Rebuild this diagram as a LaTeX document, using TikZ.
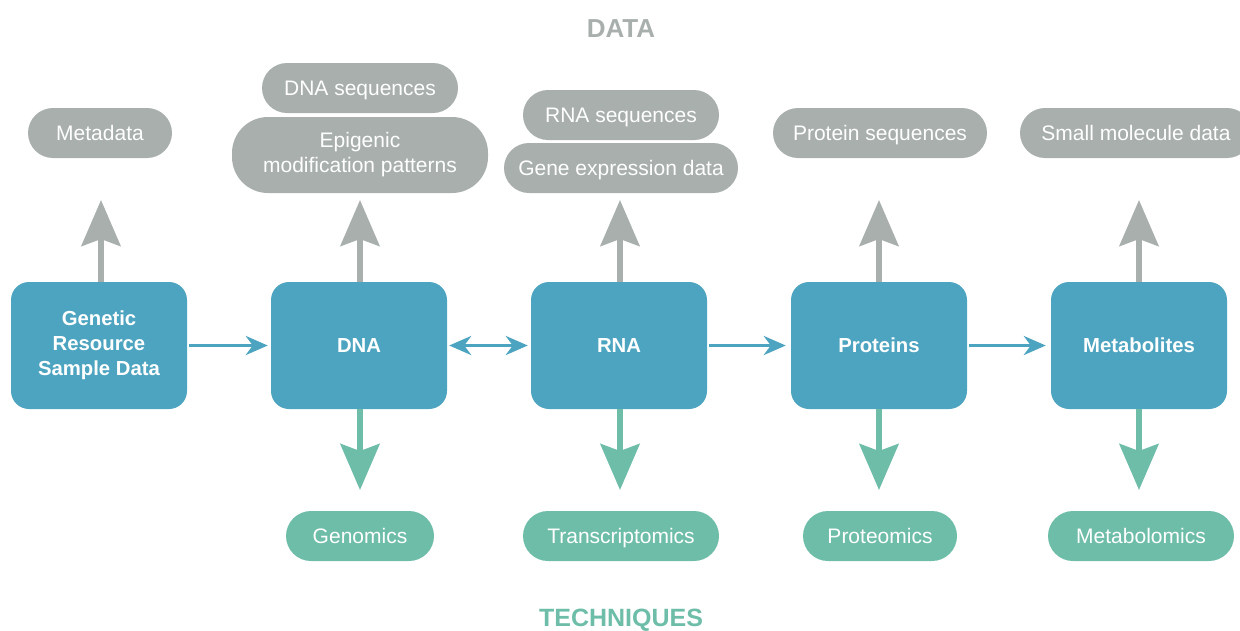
\documentclass[tikz,border=0pt]{standalone}
\usepackage{fontspec}
\setmainfont{Liberation Sans}
\usetikzlibrary{arrows.meta}
\definecolor{boxblue}{HTML}{4DA4C0}
\definecolor{datagray}{HTML}{A8AFAD}
\definecolor{techgreen}{HTML}{6DBDA8}
\tikzset{
  x=1pt,y=-1pt,
  mainbox/.style={fill=boxblue,rounded corners=18pt,minimum width=176pt,minimum height=127pt,inner sep=0pt,text=white,font=\fontsize{20.3}{25}\selectfont\bfseries,align=center},
  pillbase/.style={rounded corners=25pt,minimum height=50pt,inner sep=0pt,text=white,font=\fontsize{21}{25}\selectfont,align=center,text height=15pt,text depth=0pt},
  datapill/.style={pillbase,fill=datagray},
  techpill/.style={pillbase,fill=techgreen},
  flow/.style={draw=boxblue,line width=3.5pt,-{Stealth[length=22pt,width=19pt,inset=7pt]}},
  flowboth/.style={draw=boxblue,line width=3.5pt,{Stealth[length=22pt,width=19pt,inset=7pt]}-{Stealth[length=22pt,width=19pt,inset=7pt]}},
  uparrow/.style={draw=datagray,line width=6pt,-{Stealth[length=46pt,width=39pt,inset=7pt]}},
  downarrow/.style={draw=techgreen,line width=6pt,-{Stealth[length=46pt,width=39pt,inset=7pt]}},
  title/.style={font=\fontsize{26}{30}\selectfont\bfseries,text height=19pt,text depth=0pt},
}
\begin{document}
\begin{tikzpicture}
\useasboundingbox (0,0) rectangle (1240,630);
% titles
\node[title,text=datagray] (tdata) at (621,28) {DATA};
\node[title,text=techgreen,font=\fontsize{25}{30}\selectfont\bfseries] (ttech) at (621,617) {TECHNIQUES};
% main boxes
\node[mainbox] (gen) at (99,345.5) {Genetic\\Resource\\Sample Data};
\node[mainbox,text height=14.5pt,text depth=0pt] (dna) at (359,345.5) {DNA};
\node[mainbox,text height=14.5pt,text depth=0pt] (rna) at (619,345.5) {RNA};
\node[mainbox,text height=14.5pt,text depth=0pt] (pro) at (879,345.5) {Proteins};
\node[mainbox,text height=14.5pt,text depth=0pt] (met) at (1139,345.5) {Metabolites};
% data pills
\node[datapill,minimum width=144pt] (meta) at (100,133) {Metadata};
\node[datapill,minimum width=196pt] (dnaseq) at (360,88) {DNA sequences};
\node[datapill,minimum width=256pt,minimum height=76pt,rounded corners=36pt,text height=,text depth=] (epi) at (360,155) {Epigenic\\modification patterns};
\node[datapill,minimum width=196pt] (rnaseq) at (621,115) {RNA sequences};
\node[datapill,minimum width=234pt] (gexp) at (621,168) {Gene expression data};
\node[datapill,minimum width=214pt] (protseq) at (880,133) {Protein sequences};
\node[datapill,minimum width=232pt] (small) at (1136,133) {Small molecule data};
% technique pills
\node[techpill,minimum width=148pt] (genom) at (360,536) {Genomics};
\node[techpill,minimum width=196pt] (trans) at (621,536) {Transcriptomics};
\node[techpill,minimum width=154pt] (prot) at (880,536) {Proteomics};
\node[techpill,minimum width=186pt] (metab) at (1141,536) {Metabolomics};
% up arrow tips
\coordinate (u1) at (101,200);
\coordinate (u2) at (360,200);
\coordinate (u3) at (620,200);
\coordinate (u4) at (879,200);
\coordinate (u5) at (1139,200);
\draw[uparrow] (gen.north -| u1) -- (u1);
\draw[uparrow] (dna.north -| u2) -- (u2);
\draw[uparrow] (rna.north -| u3) -- (u3);
\draw[uparrow] (pro.north -| u4) -- (u4);
\draw[uparrow] (met.north -| u5) -- (u5);
% down arrow tips
\coordinate (d2) at (360,490);
\coordinate (d3) at (620,490);
\coordinate (d4) at (879,490);
\coordinate (d5) at (1139,490);
\draw[downarrow] (dna.south -| d2) -- (d2);
\draw[downarrow] (rna.south -| d3) -- (d3);
\draw[downarrow] (pro.south -| d4) -- (d4);
\draw[downarrow] (met.south -| d5) -- (d5);
% flow arrows
\draw[flow] ([xshift=2pt]gen.east) -- ([xshift=-3pt]dna.west);
\draw[flowboth] ([xshift=2pt]dna.east) -- ([xshift=-3pt]rna.west);
\draw[flow] ([xshift=2pt]rna.east) -- ([xshift=-5pt]pro.west);
\draw[flow] ([xshift=2pt]pro.east) -- ([xshift=-5pt]met.west);
\end{tikzpicture}
\end{document}
